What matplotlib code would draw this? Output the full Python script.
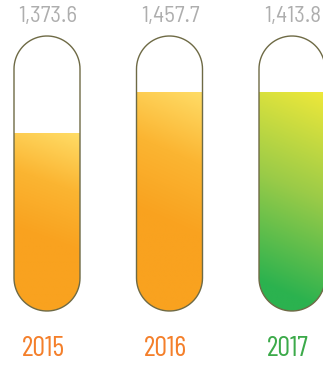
import numpy as np
import matplotlib.pyplot as plt
from matplotlib.path import Path
from matplotlib.patches import PathPatch
from matplotlib.colors import LinearSegmentedColormap

# data
years = ["2015", "2016", "2017"]
values = [1373.6, 1457.7, 1413.8]
fill_levels = [0.644, 0.793, 0.793]  # share of tube filled

year_colors = ["#F47F2A", "#F47F2A", "#3CAA4A"]
grad_colors = [["#FFDC66", "#FBB532", "#F9A21F"],
               ["#FFDC66", "#FBB532", "#F9A21F"],
               ["#EEE83A", "#9ACB48", "#2BB24F"]]
grad_span = [0.6, 0.6, 0.9]

fig = plt.figure(figsize=(3.23, 3.65), dpi=100)
ax = fig.add_axes([0, 0, 1, 1])
ax.set_xlim(0, 323)
ax.set_ylim(365, 0)
ax.axis("off")

tube_w = 66
tube_top, tube_bot = 36, 311
tube_h = tube_bot - tube_top
r = tube_w / 2


def pill(cx):
    # capsule outline in pixel coords (y down)
    a = np.linspace(np.pi, 2 * np.pi, 40)
    top = np.column_stack([cx + r * np.cos(a), tube_top + r + r * np.sin(a)])
    b = np.linspace(0, np.pi, 40)
    bot = np.column_stack([cx + r * np.cos(b), tube_bot - r + r * np.sin(b)])
    pts = np.vstack([top, bot, top[:1]])
    return Path(pts, closed=True)


for i, (yr, v, lvl) in enumerate(zip(years, values, fill_levels)):
    cx = 47 + i * 122.5
    x0 = cx - r

    tube = PathPatch(pill(cx), facecolor="none", edgecolor="#6E6A45", lw=1.0, zorder=3)
    ax.add_patch(tube)

    # gradient fill, clipped to tube shape
    fill_top = tube_bot - lvl * tube_h
    ny, nx = 200, 60
    yy, xx = np.mgrid[0:1:ny * 1j, 0:1:nx * 1j]
    t = np.clip((yy * 0.9 + (1 - xx) * 0.12) / grad_span[i], 0, 1)
    cmap = LinearSegmentedColormap.from_list("g%d" % i, grad_colors[i])
    im = ax.imshow(t, cmap=cmap, vmin=0, vmax=1, aspect="auto",
                   extent=(x0, x0 + tube_w, tube_bot, fill_top),
                   origin="upper", interpolation="bilinear", zorder=2)
    clip = PathPatch(pill(cx), facecolor="none", edgecolor="none")
    ax.add_patch(clip)
    im.set_clip_path(clip)

    ax.text(cx + 1, 17, f"{v:,.1f}", ha="center", va="center", fontsize=16.5,
            color="#AEAEAE", family=["Barlow Semi Condensed", "DejaVu Sans"])
    ax.text(cx - 4, 349, yr, ha="center", va="center", fontsize=20.5,
            color=year_colors[i], family=["Barlow Condensed", "DejaVu Sans"])

fig.savefig("out.png", dpi=100)
